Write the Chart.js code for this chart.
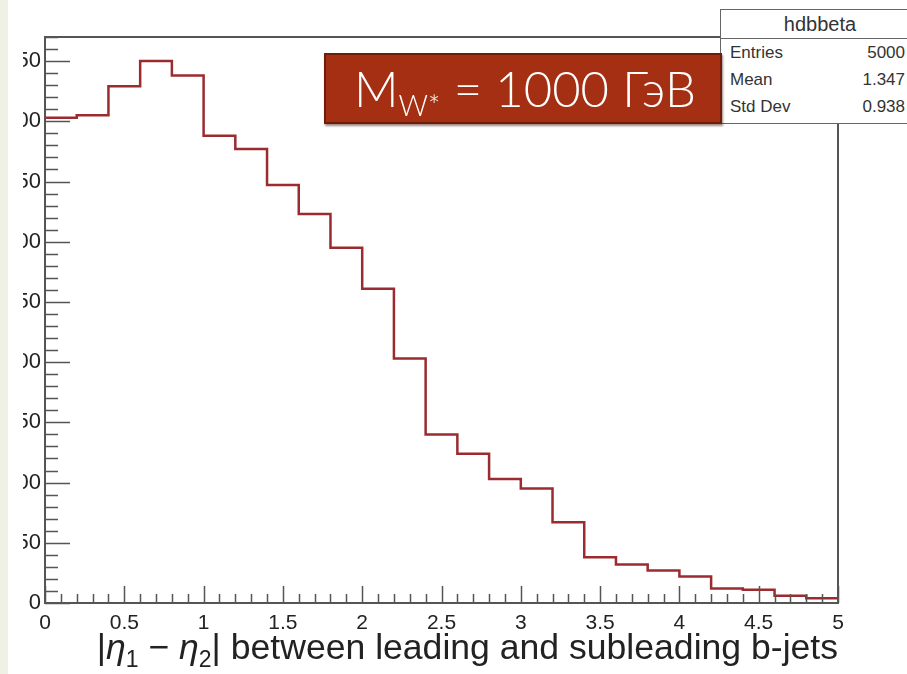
<!DOCTYPE html>
<html>
<head>
<meta charset="utf-8">
<script src="https://cdn.jsdelivr.net/npm/chart.js@4.4.0/dist/chart.umd.min.js"></script>
<style>
  body { margin: 0; background: #fff; }
  #wrap { position: relative; width: 907px; height: 674px; overflow: hidden; background: #fff; }
  #edge { position: absolute; left: 0; top: 0; width: 8px; height: 674px; background: #eef1e4; }
  #cut { position: absolute; left: 8px; top: 0; width: 15px; height: 674px; background: #fff; }
  #stats {
    position: absolute; left: 720px; top: 9px; width: 200px; height: 115px;
    background: #fff; border: 1px solid #666; box-sizing: border-box;
    font-family: "Liberation Sans", Arial, sans-serif; color: #333;
  }
  #stats .ttl { height: 28px; line-height: 28px; text-align: center; font-size: 20px; border-bottom: 1px solid #666; }
  #stats .row { display: flex; justify-content: space-between; padding: 0 14px 0 9px; height: 27px; line-height: 27px; font-size: 17px; }
  #tag {
    position: absolute; left: 324px; top: 53px; width: 398px; height: 71px;
    background: #a42f12; border: 2px solid #6f1c0b; box-sizing: border-box;
    box-shadow: 1px 2px 2px rgba(60, 20, 10, 0.5);
    color: #fff; font-family: Lato, "Open Sans", sans-serif; font-weight: 300;
    font-size: 49px; line-height: 66px; padding-left: 28px; white-space: nowrap;
  }
  #tag sub { font-size: 29px; vertical-align: -9px; line-height: 0; }
  #xtitle {
    position: absolute; right: 69px; top: 627px;
    font-family: "Liberation Sans", Arial, sans-serif; font-size: 35.6px; color: #222; white-space: nowrap;
  }
  #xtitle sub { font-size: 23px; vertical-align: -8px; line-height: 0; }
</style>
</head>
<body>
<div id="wrap">
  <canvas id="hist" width="907" height="674"></canvas>
  <div id="edge"></div>
  <div id="cut"></div>
  <div id="stats"></div>
  <div id="tag">M<sub>W*</sub> = 1000 ГэВ</div>
  <div id="xtitle">|<i>η</i><sub>1</sub> − <i>η</i><sub>2</sub>| between leading and subleading b-jets</div>
</div>
<script>
// lower edges of the 25 bins in |eta1 - eta2|
const binLow = [0, 0.2, 0.4, 0.6, 0.8, 1.0, 1.2, 1.4, 1.6, 1.8, 2.0, 2.2, 2.4,
                2.6, 2.8, 3.0, 3.2, 3.4, 3.6, 3.8, 4.0, 4.2, 4.4, 4.6, 4.8];
const binHigh = 5;
// entries per bin
const counts = [403, 405, 429, 450, 438, 388, 377, 347, 323, 295, 261, 203, 140,
                124, 103, 95, 67, 38, 32, 27, 22, 12, 11, 6, 4];
const yMax = 470;
const yTicks = [0, 50, 100, 150, 200, 250, 300, 350, 400, 450];
const xTicks = [0, 0.5, 1, 1.5, 2, 2.5, 3, 3.5, 4, 4.5, 5];

const statNames = ["Entries", "Mean", "Std Dev"];
const statValues = ["5000", "1.347", "0.938"];

// stats box
const stats = document.getElementById("stats");
stats.innerHTML = '<div class="ttl">hdbbeta</div>' +
  statNames.map((n, i) => `<div class="row"><span>${n}</span><span>${statValues[i]}</span></div>`).join("");

// histogram as steps: one point per lower edge + closing point at the upper edge
const points = binLow.map((x, i) => ({x: x, y: counts[i]}));
points.push({x: binHigh, y: counts[counts.length - 1]});

// ROOT-style frame with ticks pointing inwards
const rootFrame = {
  id: "rootFrame",
  afterDatasetsDraw(chart) {
    const {ctx, chartArea: a, scales: {x, y}} = chart;
    ctx.save();
    ctx.strokeStyle = "#555";
    ctx.lineWidth = 1.5;
    ctx.beginPath();
    for (let v = 0; v <= yMax; v += 10) {
      const py = Math.round(y.getPixelForValue(v)) + 0.5;
      const len = v % 50 === 0 ? 25 : 13;
      ctx.moveTo(a.left, py);
      ctx.lineTo(a.left + len, py);
    }
    for (let i = 0; i <= 50; i++) {
      const px = Math.round(x.getPixelForValue(i / 10)) + 0.5;
      const len = i % 5 === 0 ? 17 : 9;
      ctx.moveTo(px, a.bottom);
      ctx.lineTo(px, a.bottom - len);
    }
    ctx.stroke();
    ctx.lineWidth = 2;
    ctx.strokeRect(a.left, a.top, a.right - a.left, a.bottom - a.top);
    ctx.restore();
  }
};

new Chart(document.getElementById("hist"), {
  type: "line",
  plugins: [rootFrame],
  data: {
    datasets: [{
      data: points,
      stepped: "before",
      borderColor: "#9c2b2f",
      borderWidth: 2.5,
      pointRadius: 0,
      fill: false,
    }],
  },
  options: {
    responsive: false,
    animation: false,
    layout: { padding: { top: 37, right: 69, left: 0, bottom: 0 } },
    plugins: { legend: { display: false }, tooltip: { enabled: false } },
    scales: {
      x: {
        type: "linear",
        min: 0,
        max: binHigh,
        grid: { display: false, drawTicks: false },
        border: { display: false },
        afterFit: (s) => { s.height = 71; },
        afterBuildTicks: (s) => { s.ticks = xTicks.map((v) => ({value: v})); },
        ticks: {
          autoSkip: false,
          padding: 8,
          color: "#222",
          font: { family: "Liberation Sans", size: 21 },
          maxRotation: 0,
          callback: (v) => String(v),
        },
      },
      y: {
        min: 0,
        max: yMax,
        grid: { display: false, drawTicks: false },
        border: { display: false },
        afterFit: (s) => { s.width = 45; },
        afterBuildTicks: (s) => { s.ticks = yTicks.map((v) => ({value: v})); },
        ticks: {
          autoSkip: false,
          padding: 4,
          color: "#222",
          font: { family: "Liberation Sans", size: 22 },
          callback: (v) => String(v),
        },
      },
    },
  },
});
</script>
</body>
</html>
